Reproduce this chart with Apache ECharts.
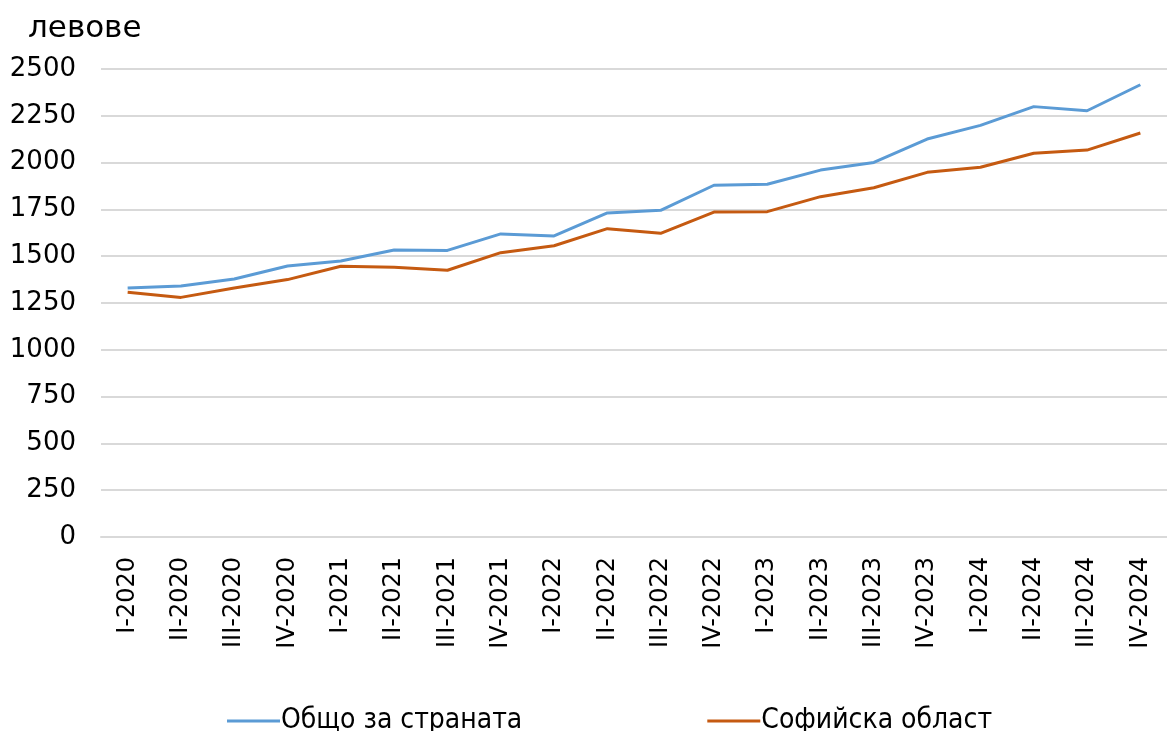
<!DOCTYPE html>
<html>
<head>
<meta charset="utf-8">
<script src="https://cdn.jsdelivr.net/npm/echarts@6/dist/echarts.min.js"></script>
<style>
html,body{margin:0;padding:0;background:#fff;}
#chart{width:1167px;height:731px;}
</style>
</head>
<body>
<div id="chart"></div>
<script>
var categories = ['I-2020','II-2020','III-2020','IV-2020','I-2021','II-2021','III-2021','IV-2021',
	'I-2022','II-2022','III-2022','IV-2022','I-2023','II-2023','III-2023','IV-2023',
	'I-2024','II-2024','III-2024','IV-2024'];
var countryValues = [1330,1341,1378,1448,1474,1533,1531,1619,1608,1731,1745,1879,1884,1960,2001,2126,2199,2299,2277,2416];
var sofiaValues = [1307,1280,1330,1375,1446,1441,1425,1519,1556,1647,1622,1736,1738,1818,1866,1948,1975,2050,2067,2158];
var seriesNames = ['Общо за страната','Софийска област'];

var chart = echarts.init(document.getElementById('chart'));
var option = {
	animation: false,
	title: {
		text: 'левове',
		left: 23, top: 8,
		textStyle: {fontFamily: 'DejaVu Sans', fontSize: 31, fontWeight: 'normal', color: '#000'}
	},
	legend: {
		top: 702,
		left: 222,
		itemGap: 185,
		itemWidth: 53,
		itemHeight: 3,
		icon: 'rect',
		data: seriesNames,
		textStyle: {fontFamily: "'DejaVu Sans Condensed', 'Liberation Sans'", fontSize: 28, color: '#000', padding: [0,0,0,-4]}
	},
	grid: {left: 101, top: 69, width: 1072, height: 468},
	xAxis: {
		type: 'category',
		data: categories,
		axisLine: {show: true, lineStyle: {color: '#D9D9D9', width: 2}},
		axisTick: {show: false},
		axisLabel: {rotate: 90, interval: 0, margin: 20, fontFamily: 'DejaVu Sans', fontSize: 24, color: '#000'}
	},
	yAxis: {
		type: 'value',
		min: 0, max: 2500, interval: 250,
		axisLine: {show: false},
		axisTick: {show: false},
		axisLabel: {margin: 25, fontFamily: 'DejaVu Sans', fontSize: 26, color: '#000', formatter: function(v){ return String(v); }},
		splitLine: {lineStyle: {color: '#D9D9D9', width: 2}}
	},
	series: [
		{
			name: seriesNames[0], type: 'line', data: countryValues,
			symbol: 'none', lineStyle: {color: '#5B9BD5', width: 3}, itemStyle: {color: '#5B9BD5'}
		},
		{
			name: seriesNames[1], type: 'line', data: sofiaValues,
			symbol: 'none', lineStyle: {color: '#C55A11', width: 3}, itemStyle: {color: '#C55A11'}
		}
	]
};
chart.setOption(option);
</script>
</body>
</html>
